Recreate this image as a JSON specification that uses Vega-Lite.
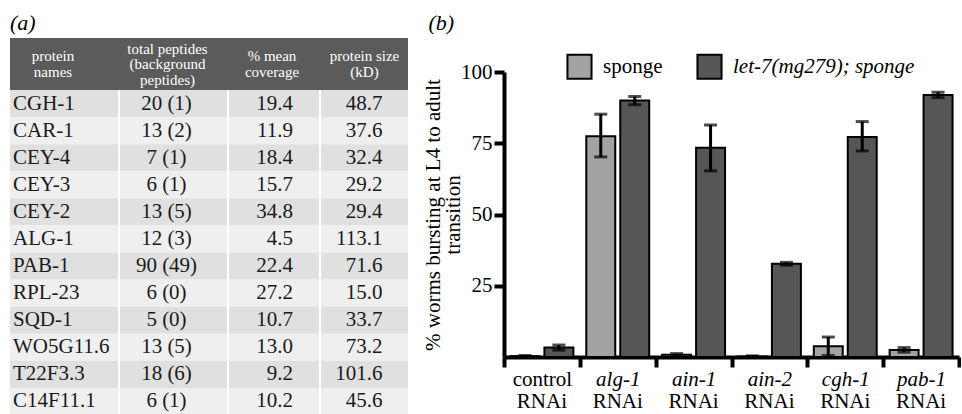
{
  "$schema": "https://vega.github.io/schema/vega-lite/v6.json",
  "padding": {"left": 10, "top": 12, "right": 0, "bottom": 0},
  "background": "white",
  "datasets": {
    "proteins": [
      {"protein": "CGH-1", "total": 20, "bg": 1, "coverage": 19.4, "size": 48.7},
      {"protein": "CAR-1", "total": 13, "bg": 2, "coverage": 11.9, "size": 37.6},
      {"protein": "CEY-4", "total": 7, "bg": 1, "coverage": 18.4, "size": 32.4},
      {"protein": "CEY-3", "total": 6, "bg": 1, "coverage": 15.7, "size": 29.2},
      {"protein": "CEY-2", "total": 13, "bg": 5, "coverage": 34.8, "size": 29.4},
      {"protein": "ALG-1", "total": 12, "bg": 3, "coverage": 4.5, "size": 113.1},
      {"protein": "PAB-1", "total": 90, "bg": 49, "coverage": 22.4, "size": 71.6},
      {"protein": "RPL-23", "total": 6, "bg": 0, "coverage": 27.2, "size": 15.0},
      {"protein": "SQD-1", "total": 5, "bg": 0, "coverage": 10.7, "size": 33.7},
      {"protein": "WO5G11.6", "total": 13, "bg": 5, "coverage": 13.0, "size": 73.2},
      {"protein": "T22F3.3", "total": 18, "bg": 6, "coverage": 9.2, "size": 101.6},
      {"protein": "C14F11.1", "total": 6, "bg": 1, "coverage": 10.2, "size": 45.6}
    ],
    "bursting": [
      {"group": "control", "series": "sponge", "value": 0.3, "lo": 0.1, "hi": 0.5},
      {"group": "control", "series": "let-7(mg279); sponge", "value": 3.3, "lo": 2.4, "hi": 4.2},
      {"group": "alg-1", "series": "sponge", "value": 77.5, "lo": 70.2, "hi": 85.2},
      {"group": "alg-1", "series": "let-7(mg279); sponge", "value": 90.0, "lo": 88.5, "hi": 91.4},
      {"group": "ain-1", "series": "sponge", "value": 0.8, "lo": 0.4, "hi": 1.2},
      {"group": "ain-1", "series": "let-7(mg279); sponge", "value": 73.4, "lo": 65.3, "hi": 81.4},
      {"group": "ain-2", "series": "sponge", "value": 0.2, "lo": 0.0, "hi": 0.4},
      {"group": "ain-2", "series": "let-7(mg279); sponge", "value": 32.7, "lo": 32.2, "hi": 33.2},
      {"group": "cgh-1", "series": "sponge", "value": 3.8, "lo": 0.5, "hi": 7.0},
      {"group": "cgh-1", "series": "let-7(mg279); sponge", "value": 77.2, "lo": 72.3, "hi": 82.6},
      {"group": "pab-1", "series": "sponge", "value": 2.5, "lo": 1.7, "hi": 3.3},
      {"group": "pab-1", "series": "let-7(mg279); sponge", "value": 91.9, "lo": 91.0, "hi": 92.9}
    ]
  },
  "spacing": 14,
  "hconcat": [
    {
      "title": {"text": "(a)", "anchor": "start", "offset": 3, "font": "Liberation Serif", "fontSize": 22, "fontStyle": "italic", "fontWeight": "normal", "color": "black"},
      "spacing": 0,
      "vconcat": [
        {
          "spacing": 0,
          "hconcat": [
            {"width": 110, "height": 52, "view": {"fill": "#5b5b5b", "stroke": null},
             "data": {"values": [{"h": "protein\nnames"}]},
             "mark": {"type": "text", "color": "white", "font": "Liberation Serif", "fontSize": 15, "lineBreak": "\n", "lineHeight": 15.5, "baseline": "middle", "dy": -7.75, "dx": -12},
             "encoding": {"text": {"field": "h", "type": "nominal"}}},
            {"width": 109, "height": 52, "view": {"fill": "#5b5b5b", "stroke": null},
             "data": {"values": [{"h": "total peptides\n(background\npeptides)"}]},
             "mark": {"type": "text", "color": "white", "font": "Liberation Serif", "fontSize": 15, "lineBreak": "\n", "lineHeight": 15.5, "baseline": "middle", "dy": -15.5, "dx": -7},
             "encoding": {"text": {"field": "h", "type": "nominal"}}},
            {"width": 92, "height": 52, "view": {"fill": "#5b5b5b", "stroke": null},
             "data": {"values": [{"h": "% mean\ncoverage"}]},
             "mark": {"type": "text", "color": "white", "font": "Liberation Serif", "fontSize": 15, "lineBreak": "\n", "lineHeight": 15.5, "baseline": "middle", "dy": -7.75, "dx": -3},
             "encoding": {"text": {"field": "h", "type": "nominal"}}},
            {"width": 87, "height": 52, "view": {"fill": "#5b5b5b", "stroke": null},
             "data": {"values": [{"h": "protein size\n(kD)"}]},
             "mark": {"type": "text", "color": "white", "font": "Liberation Serif", "fontSize": 15, "lineBreak": "\n", "lineHeight": 15.5, "baseline": "middle", "dy": -7.75},
             "encoding": {"text": {"field": "h", "type": "nominal"}}}
          ]
        },
        {
          "spacing": 2,
          "hconcat": [
            {"width": 108, "height": 325, "data": {"name": "proteins"},
             "encoding": {"y": {"field": "protein", "type": "nominal", "sort": null, "axis": null}},
             "layer": [
               {"mark": {"type": "rect"},
                "encoding": {"fill": {"field": "protein", "type": "nominal", "legend": null,
                  "scale": {"domain": ["CGH-1","CAR-1","CEY-4","CEY-3","CEY-2","ALG-1","PAB-1","RPL-23","SQD-1","WO5G11.6","T22F3.3","C14F11.1"],
                            "range": ["#e0e0e0","#efefef","#e0e0e0","#efefef","#e0e0e0","#efefef","#e0e0e0","#efefef","#e0e0e0","#efefef","#e0e0e0","#efefef"]}}}},
               {"mark": {"type": "text", "font": "Liberation Serif", "fontSize": 21, "color": "#1a1a1a", "align": "left", "dx": -51},
                "encoding": {"text": {"field": "protein", "type": "nominal"}}}
             ]},
            {"width": 107, "height": 325, "data": {"name": "proteins"},
             "transform": [{"calculate": "datum.total + ' (' + datum.bg + ')'", "as": "pep"}],
             "encoding": {"y": {"field": "protein", "type": "nominal", "sort": null, "axis": null}},
             "layer": [
               {"mark": {"type": "rect"},
                "encoding": {"fill": {"field": "protein", "type": "nominal", "legend": null,
                  "scale": {"domain": ["CGH-1","CAR-1","CEY-4","CEY-3","CEY-2","ALG-1","PAB-1","RPL-23","SQD-1","WO5G11.6","T22F3.3","C14F11.1"],
                            "range": ["#e0e0e0","#efefef","#e0e0e0","#efefef","#e0e0e0","#efefef","#e0e0e0","#efefef","#e0e0e0","#efefef","#e0e0e0","#efefef"]}}}},
               {"mark": {"type": "text", "font": "Liberation Serif", "fontSize": 21, "color": "#1a1a1a", "dx": -7},
                "encoding": {"text": {"field": "pep", "type": "nominal"}}}
             ]},
            {"width": 90, "height": 325, "data": {"name": "proteins"},
             "encoding": {"y": {"field": "protein", "type": "nominal", "sort": null, "axis": null}},
             "layer": [
               {"mark": {"type": "rect"},
                "encoding": {"fill": {"field": "protein", "type": "nominal", "legend": null,
                  "scale": {"domain": ["CGH-1","CAR-1","CEY-4","CEY-3","CEY-2","ALG-1","PAB-1","RPL-23","SQD-1","WO5G11.6","T22F3.3","C14F11.1"],
                            "range": ["#e0e0e0","#efefef","#e0e0e0","#efefef","#e0e0e0","#efefef","#e0e0e0","#efefef","#e0e0e0","#efefef","#e0e0e0","#efefef"]}}}},
               {"mark": {"type": "text", "font": "Liberation Serif", "fontSize": 21, "color": "#1a1a1a", "align": "right", "dx": 19},
                "encoding": {"text": {"field": "coverage", "type": "quantitative", "format": ".1f"}}}
             ]},
            {"width": 87, "height": 325, "data": {"name": "proteins"},
             "encoding": {"y": {"field": "protein", "type": "nominal", "sort": null, "axis": null}},
             "layer": [
               {"mark": {"type": "rect"},
                "encoding": {"fill": {"field": "protein", "type": "nominal", "legend": null,
                  "scale": {"domain": ["CGH-1","CAR-1","CEY-4","CEY-3","CEY-2","ALG-1","PAB-1","RPL-23","SQD-1","WO5G11.6","T22F3.3","C14F11.1"],
                            "range": ["#e0e0e0","#efefef","#e0e0e0","#efefef","#e0e0e0","#efefef","#e0e0e0","#efefef","#e0e0e0","#efefef","#e0e0e0","#efefef"]}}}},
               {"mark": {"type": "text", "font": "Liberation Serif", "fontSize": 21, "color": "#1a1a1a", "align": "right", "dx": 18},
                "encoding": {"text": {"field": "size", "type": "quantitative", "format": ".1f"}}}
             ]}
          ]
        }
      ]
    },
    {
      "title": {"text": "(b)", "anchor": "start", "offset": 3, "dx": 6, "font": "Liberation Serif", "fontSize": 22, "fontStyle": "italic", "fontWeight": "normal", "color": "black"},
      "bounds": "flush",
      "spacing": 0,
      "vconcat": [
        {"width": 455, "height": 34, "data": {"values": [{"t": ""}]},
         "mark": {"type": "text"},
         "encoding": {"text": {"field": "t", "type": "nominal"}}},
        {
          "width": 455,
          "height": 285,
          "data": {"name": "bursting"},
          "layer": [
            {
              "mark": {"type": "bar", "stroke": "black", "strokeWidth": 2},
              "encoding": {
                "x": {"field": "group", "type": "nominal", "sort": ["control","alg-1","ain-1","ain-2","cgh-1","pab-1"],
                      "scale": {"paddingInner": 0, "paddingOuter": 0},
                      "axis": {"orient": "bottom", "title": null, "tickBand": "extent", "labelAngle": 0,
                               "domainWidth": 4, "domainColor": "black", "tickWidth": 4, "tickSize": 10, "tickColor": "black",
                               "labelPadding": 1, "labelFont": "Liberation Serif", "labelFontSize": 21, "labelColor": "black",
                               "labelFontStyle": {"condition": {"test": "datum.value === 'control'", "value": "normal"}, "value": "italic"}}},
                "xOffset": {"field": "series", "type": "nominal", "sort": ["sponge","let-7(mg279); sponge"],
                            "scale": {"paddingInner": 0.147, "paddingOuter": 0.19}},
                "y": {"field": "value", "type": "quantitative", "scale": {"domain": [0, 100]},
                      "axis": {"title": ["% worms bursting at L4 to adult", "transition"], "values": [25, 50, 75, 100],
                               "domainWidth": 4, "domainColor": "black", "tickWidth": 4, "tickSize": 10, "tickColor": "black",
                               "labelPadding": 2, "labelFont": "Liberation Serif", "labelFontSize": 21, "labelColor": "black",
                               "titleFont": "Liberation Serif", "titleFontSize": 21, "titleFontWeight": "normal", "titleColor": "black",
                               "titleLineHeight": 20, "titlePadding": -3, "grid": false}},
                "fill": {"field": "series", "type": "nominal",
                         "scale": {"domain": ["sponge","let-7(mg279); sponge"], "range": ["#a3a3a3", "#565656"]},
                         "legend": {"orient": "none", "legendX": 62, "legendY": 15, "direction": "horizontal",
                                    "title": null, "symbolType": "square", "symbolSize": 580,
                                    "symbolStrokeColor": "black", "symbolStrokeWidth": 2,
                                    "labelFont": "Liberation Serif", "labelFontSize": 21, "labelOffset": 10, "columnPadding": 30,
                                    "labelColor": "black", "labelLimit": 400,
                                    "labelFontStyle": {"expr": "datum.label === 'sponge' ? 'normal' : 'italic'"}}}
              }
            },
            {
              "mark": {"type": "rule", "color": "black", "strokeWidth": 3},
              "encoding": {
                "x": {"field": "group", "type": "nominal", "sort": ["control","alg-1","ain-1","ain-2","cgh-1","pab-1"],
                      "axis": {"orient": "bottom", "title": null, "labelAngle": 0, "ticks": false, "domain": false,
                               "labelExpr": "'RNAi'", "labelPadding": 33, "labelFont": "Liberation Serif", "labelFontSize": 21, "labelColor": "black"}},
                "xOffset": {"field": "series", "type": "nominal", "sort": ["sponge","let-7(mg279); sponge"]},
                "y": {"field": "lo", "type": "quantitative", "scale": {"domain": [0, 100]},
                      "axis": {"title": ["% worms bursting at L4 to adult", "transition"]}},
                "y2": {"field": "hi"}
              }
            },
            {
              "mark": {"type": "tick", "color": "black", "thickness": 3, "size": 13},
              "encoding": {
                "x": {"field": "group", "type": "nominal", "sort": ["control","alg-1","ain-1","ain-2","cgh-1","pab-1"], "axis": null},
                "xOffset": {"field": "series", "type": "nominal", "sort": ["sponge","let-7(mg279); sponge"]},
                "y": {"field": "lo", "type": "quantitative", "scale": {"domain": [0, 100]},
                      "axis": {"title": ["% worms bursting at L4 to adult", "transition"]}}
              }
            },
            {
              "mark": {"type": "tick", "color": "black", "thickness": 3, "size": 13},
              "encoding": {
                "x": {"field": "group", "type": "nominal", "sort": ["control","alg-1","ain-1","ain-2","cgh-1","pab-1"], "axis": null},
                "xOffset": {"field": "series", "type": "nominal", "sort": ["sponge","let-7(mg279); sponge"]},
                "y": {"field": "hi", "type": "quantitative", "scale": {"domain": [0, 100]},
                      "axis": {"title": ["% worms bursting at L4 to adult", "transition"]}}
              }
            }
          ],
          "resolve": {"axis": {"x": "independent"}}
        }
      ]
    }
  ],
  "resolve": {"scale": {"x": "independent", "y": "independent", "fill": "independent"}},
  "config": {
    "font": "Liberation Serif",
    "view": {"stroke": null},
    "title": {"font": "Liberation Serif", "fontSize": 22, "fontWeight": "normal", "fontStyle": "italic", "color": "black"},
    "axis": {"grid": false, "labelFont": "Liberation Serif", "titleFont": "Liberation Serif",
             "labelColor": "black", "titleColor": "black", "domainColor": "black", "tickColor": "black"},
    "legend": {"labelFont": "Liberation Serif"},
    "text": {"font": "Liberation Serif"}
  }
}
